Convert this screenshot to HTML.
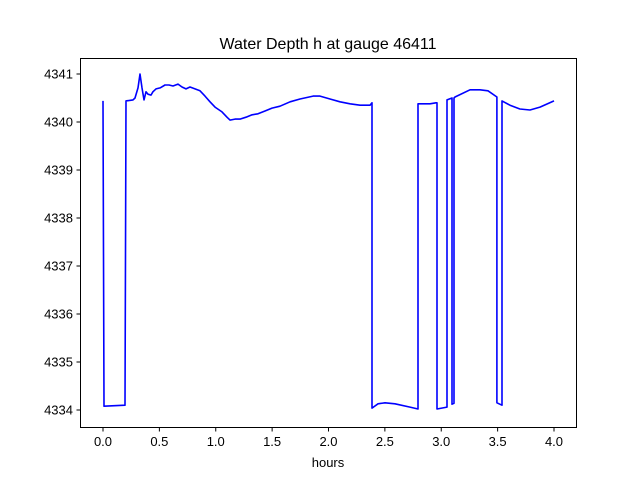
<!DOCTYPE html>
<html><head><meta charset="utf-8"><style>
body{margin:0;background:#fff}
svg text{font-family:"Liberation Sans","DejaVu Sans",sans-serif;fill:#000}
</style></head><body>
<svg id="c" width="640" height="480">
<rect width="640" height="480" fill="#fff"/>
<text x="328" y="49" font-size="16" text-anchor="middle">Water Depth h at gauge 46411</text>
<text x="328" y="467" font-size="13" text-anchor="middle">hours</text>
<g id="ticks"></g>
<polyline id="line" fill="none" stroke="#0000ff" stroke-width="1.6" stroke-linejoin="round"/>
<rect x="80.5" y="58.5" width="496" height="369" fill="none" stroke="#000" stroke-width="1"/>
</svg>
<script>
const hours=[0,0.009,0.195,0.204,0.266,0.284,0.310,0.328,0.346,0.364,0.381,0.399,0.426,0.443,0.470,0.506,0.550,0.585,0.621,0.665,0.701,0.736,0.772,0.816,0.860,0.905,0.949,0.993,1.055,1.100,1.126,1.171,1.215,1.268,1.322,1.375,1.437,1.499,1.570,1.659,1.747,1.863,1.925,2.013,2.102,2.191,2.279,2.368,2.386,2.386,2.439,2.501,2.590,2.723,2.794,2.794,2.900,2.953,2.962,2.962,3.051,3.051,3.095,3.095,3.113,3.113,3.122,3.255,3.344,3.415,3.494,3.494,3.539,3.539,3.610,3.698,3.787,3.876,4.0];
const depth=[4340.44,4334.08,4334.1,4340.44,4340.46,4340.5,4340.71,4341.0,4340.71,4340.46,4340.63,4340.58,4340.56,4340.63,4340.69,4340.71,4340.77,4340.77,4340.75,4340.79,4340.73,4340.69,4340.73,4340.69,4340.65,4340.54,4340.42,4340.31,4340.21,4340.10,4340.04,4340.06,4340.06,4340.10,4340.15,4340.17,4340.23,4340.29,4340.33,4340.42,4340.48,4340.54,4340.54,4340.48,4340.42,4340.38,4340.35,4340.35,4340.40,4334.04,4334.13,4334.15,4334.13,4334.06,4334.02,4340.38,4340.38,4340.40,4340.40,4334.02,4334.06,4340.46,4340.50,4334.12,4334.14,4340.50,4340.52,4340.67,4340.67,4340.65,4340.52,4334.15,4334.10,4340.44,4340.35,4340.27,4340.25,4340.31,4340.44];
const xTicks=[0,0.5,1.0,1.5,2.0,2.5,3.0,3.5,4.0];
const yTicks=[4334,4335,4336,4337,4338,4339,4340,4341];
const X=h=>103+h*112.75;
const Y=v=>122-(v-4340)*48;
const ns="http://www.w3.org/2000/svg";
document.getElementById('line').setAttribute('points',hours.map((h,i)=>X(h).toFixed(1)+','+Y(depth[i]).toFixed(1)).join(' '));
const g=document.getElementById('ticks');
xTicks.forEach(t=>{
 const l=document.createElementNS(ns,'line');
 
 
 l.setAttribute('x1',X(t));l.setAttribute('x2',X(t));l.setAttribute('y1',427.5);l.setAttribute('y2',431.5);l.setAttribute('stroke','#000');
 g.appendChild(l);
 const tx=document.createElementNS(ns,'text');
 
 
 tx.setAttribute('x',X(t));tx.setAttribute('y',446);tx.setAttribute('font-size','13');tx.setAttribute('text-anchor','middle');
 tx.textContent=t.toFixed(1);g.appendChild(tx);
});
yTicks.forEach(t=>{
 const l=document.createElementNS(ns,'line');
 
 
 l.setAttribute('x1',76.5);l.setAttribute('x2',80.5);l.setAttribute('y1',Y(t));l.setAttribute('y2',Y(t));l.setAttribute('stroke','#000');
 g.appendChild(l);
 const tx=document.createElementNS(ns,'text');
 
 
 tx.setAttribute('x',73);tx.setAttribute('y',Y(t)+4.5);tx.setAttribute('font-size','13');tx.setAttribute('text-anchor','end');
 tx.textContent=t;g.appendChild(tx);
});
</script>
</body></html>
